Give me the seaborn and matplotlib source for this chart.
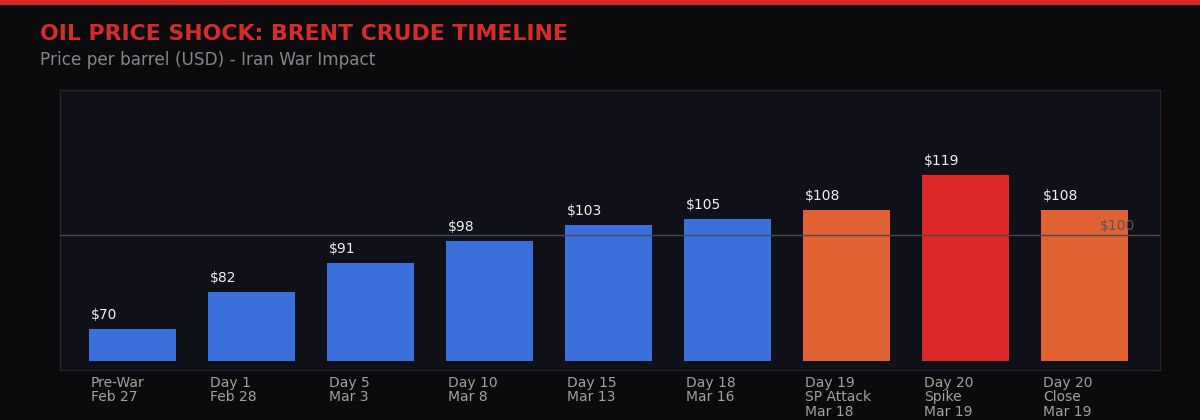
import matplotlib
matplotlib.use("Agg")
import matplotlib.pyplot as plt
import matplotlib.transforms as mtransforms
import seaborn as sns
import pandas as pd

# data
labels = ["Pre-War\nFeb 27", "Day 1\nFeb 28", "Day 5\nMar 3", "Day 10\nMar 8",
          "Day 15\nMar 13", "Day 18\nMar 16", "Day 19\nSP Attack\nMar 18",
          "Day 20\nSpike\nMar 19", "Day 20\nClose\nMar 19"]
prices = [70, 82, 91, 98, 103, 105, 108, 119, 108]
phase = ["pre", "pre", "pre", "pre", "pre", "pre", "attack", "spike", "attack"]
base = 60
ref_level = 100

palette = {"pre": "#3b6fdc", "attack": "#e06232", "spike": "#dc2828"}
df = pd.DataFrame({"label": labels, "price": prices, "phase": phase})

sns.set_style("dark")
plt.rcParams["font.family"] = ["DejaVu Sans"]

fig = plt.figure(figsize=(12, 4.2), dpi=100, facecolor="#0b0b0e")
ax = fig.add_axes([0.05, 50 / 420, 1100 / 1200, 280 / 420])
ax.set_facecolor("#0f1018")

sns.barplot(data=df, x="label", y="price", hue="phase", palette=palette,
            dodge=False, width=0.73, legend=False, ax=ax, saturation=1,
            linewidth=0, edgecolor="none")

# bars start from the base level, not zero
for p in ax.patches:
    h = p.get_height()
    if h > 0:
        p.set_y(base)
        p.set_height(h - base)
        p.set_linewidth(0)

ax.set_xlim(-0.609, 8.634)
ax.set_ylim(57.1, 146)
ax.axhline(ref_level, color="#4a4a50", lw=1, zorder=3)
ax.text(8.13, ref_level + 0.6, f"${ref_level}", color="#555558", fontsize=10,
        ha="left", va="bottom", zorder=4)

for i, v in enumerate(prices):
    ax.annotate(f"${v}", (i - 0.35, v), xytext=(0, 5), textcoords="offset points",
                color="#f0f0f0", fontsize=10, ha="left", va="bottom")

trans = mtransforms.blended_transform_factory(ax.transData, ax.transAxes)
for i, lab in enumerate(labels):
    ax.text(i - 0.35, -0.02, lab, transform=trans, color="#a0a0a4", fontsize=10,
            ha="left", va="top", linespacing=1.05)

ax.set_xticks([])
ax.set_yticks([])
ax.set_xlabel("")
ax.set_ylabel("")
for s in ax.spines.values():
    s.set_visible(True)
    s.set_color("#26262c")
    s.set_linewidth(1)

# header
fig.patches.append(plt.Rectangle((0, 1 - 4 / 420), 1, 4 / 420, transform=fig.transFigure,
                                 color="#d62828", zorder=5))
fig.text(40 / 1200, 1 - 34 / 420, "OIL PRICE SHOCK: BRENT CRUDE TIMELINE", color="#d62b2b",
         fontsize=15.8, fontweight="bold", ha="left", va="center")
fig.text(40 / 1200, 1 - 60 / 420, "Price per barrel (USD) - Iran War Impact", color="#85858a",
         fontsize=12.15, ha="left", va="center")

fig.savefig("out.png", dpi=100, facecolor=fig.get_facecolor())
